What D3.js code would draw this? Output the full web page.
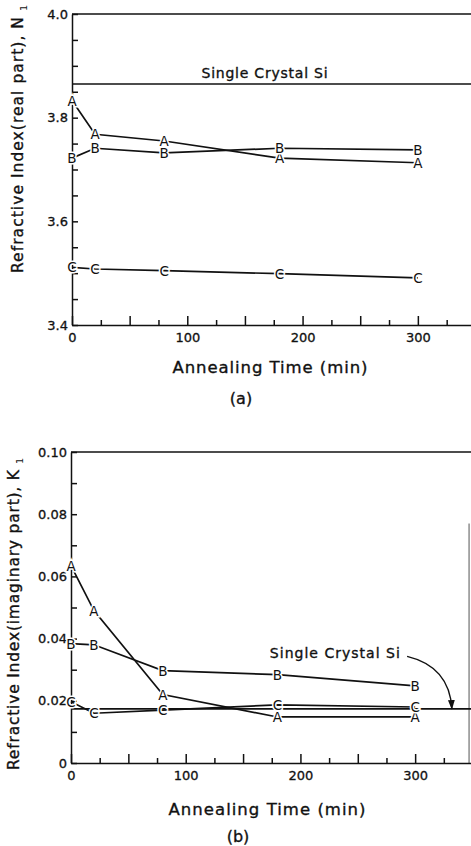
<!DOCTYPE html>
<html lang="en">
  <head>
    <meta charset="UTF-8" />
    <title>Refractive index vs annealing time</title>
    <script src="https://d3js.org/d3.v7.min.js"></script>
    <style>
      body { margin: 0; background: #fff; }
      svg text { font-family: 'DejaVu Sans', sans-serif; fill: #111; }
      .axis path, .axis line { stroke: #111; stroke-width: 1.5; }
      .axis text { font-size: 13px; stroke: #111; stroke-width: 0.3; }
      .lbl { stroke: #111; stroke-width: 0.35; }
    </style>
  </head>
  <body>
    <div id="chart"></div>
    <script>
      // annealing times (min)
      const times = [0, 20, 80, 180, 300];

      // (a) real part N1
      const nA = [3.833, 3.768, 3.755, 3.722, 3.713];
      const nB = [3.722, 3.741, 3.732, 3.741, 3.738];
      const nC = [3.511, 3.508, 3.505, 3.499, 3.491];
      const nSi = 3.865;

      // (b) imaginary part K1
      const kA = [0.0635, 0.049, 0.022, 0.0148, 0.0148];
      const kB = [0.0384, 0.038, 0.0297, 0.0284, 0.0248];
      const kC = [0.0197, 0.016, 0.017, 0.0187, 0.018];
      const kSi = 0.0174;

      const seriesNames = ['A', 'B', 'C'];
      const nTicks = [3.4, 3.6, 3.8, 4.0];
      const kTicks = [0, 0.02, 0.04, 0.06, 0.08, 0.1];
      const xTicks = [0, 100, 200, 300];

      const W = 471, H = 846;
      const svg = d3.select('#chart').append('svg')
        .attr('width', W).attr('height', H);

      function xAxis(g, x) {
        const ax = d3.axisBottom(x)
          .tickValues(d3.range(0, 351, 25))
          .tickSizeInner(-5).tickSizeOuter(0).tickPadding(8)
          .tickFormat((d) => (xTicks.includes(d) ? d : ''));
        g.call(ax);
        g.selectAll('.tick line').attr('y2', (d) => (d % 50 === 0 ? -9 : -5));
        g.selectAll('.tick text').attr('font-size', '12.5px');
      }

      function yAxis(g, y, vals, fmt) {
        const ax = d3.axisLeft(y)
          .tickValues(vals)
          .tickSizeInner(-6).tickSizeOuter(0).tickPadding(4)
          .tickFormat(fmt);
        g.call(ax);
      }

      function drawSeries(g, x, y, data) {
        data.forEach((vals) => {
          const pts = times.map((t, i) => [x(t), y(vals[i])]);
          g.append('path')
            .attr('d', d3.line()(pts))
            .attr('fill', 'none')
            .attr('stroke', '#111')
            .attr('stroke-width', 1.7);
        });
        data.forEach((vals, s) => {
          // letter markers with a white halo that cuts the line
          g.selectAll(null)
            .data(times)
            .enter()
            .append('text')
            .attr('x', (t) => x(t))
            .attr('y', (t, i) => y(vals[i]))
            .attr('text-anchor', 'middle')
            .attr('dominant-baseline', 'central')
            .attr('font-size', '13.5px')
            .attr('font-weight', 'bold')
            .attr('stroke', '#fff')
            .attr('stroke-width', 3)
            .attr('paint-order', 'stroke')
            .style('font-weight', 500)
            .text(seriesNames[s]);
        });
      }

      // ---------- panel (a) ----------
      const xa = d3.scaleLinear().domain([0, 350]).range([72, 475.5]);
      const ya = d3.scaleLinear().domain([3.4, 4.0]).range([325, 14]);
      const ga = svg.append('g');

      ga.append('line')
        .attr('x1', xa(0)).attr('x2', xa(350))
        .attr('y1', ya(4.0)).attr('y2', ya(4.0))
        .attr('stroke', '#111').attr('stroke-width', 1.7);
      ga.append('line')
        .attr('x1', xa(0)).attr('x2', xa(350))
        .attr('y1', ya(nSi)).attr('y2', ya(nSi))
        .attr('stroke', '#111').attr('stroke-width', 1.7);
      ga.append('text')
        .attr('class', 'lbl')
        .attr('x', xa(167)).attr('y', ya(3.8765))
        .attr('text-anchor', 'middle')
        .attr('font-size', '14px')
        .attr('textLength', 126)
        .text('Single Crystal Si');

      ga.append('g').attr('class', 'axis')
        .attr('transform', `translate(0,${ya(3.4)})`)
        .call((g) => xAxis(g, xa));
      ga.append('g').attr('class', 'axis')
        .attr('transform', `translate(${xa(0)},0)`)
        .call((g) => yAxis(g, ya, d3.range(0, 13).map((i) => 3.4 + i * 0.05),
          (d) => (nTicks.some((t) => Math.abs(t - d) < 1e-6) ? d3.format('.1f')(d) : '')));

      drawSeries(ga, xa, ya, [nA, nB, nC]);

      ga.append('text')
        .attr('class', 'lbl')
        .attr('transform', 'translate(23,145) rotate(-90)')
        .attr('text-anchor', 'middle')
        .attr('font-size', '15.5px')
        .attr('textLength', 256)
        .text('Refractive Index(real part), N');
      ga.append('text')
        .attr('transform', 'translate(23,145) rotate(-90)')
        .attr('x', 134).attr('y', 4)
        .attr('font-size', '9.5px')
        .text('1');
      ga.append('text')
        .attr('class', 'lbl')
        .attr('x', 270).attr('y', 373)
        .attr('text-anchor', 'middle')
        .attr('font-size', '16.5px')
        .attr('textLength', 195)
        .text('Annealing Time (min)');
      ga.append('text')
        .attr('class', 'lbl')
        .attr('x', 241).attr('y', 404)
        .attr('text-anchor', 'middle')
        .attr('font-size', '16px')
        .text('(a)');

      // ---------- panel (b) ----------
      const xb = d3.scaleLinear().domain([0, 350]).range([71, 472.5]);
      const yb = d3.scaleLinear().domain([0, 0.1]).range([763, 452]);
      const gb = svg.append('g');

      gb.append('line')
        .attr('x1', xb(0)).attr('x2', xb(350))
        .attr('y1', yb(0.1)).attr('y2', yb(0.1))
        .attr('stroke', '#111').attr('stroke-width', 1.7);
      gb.append('line')
        .attr('x1', xb(347)).attr('x2', xb(347))
        .attr('y1', yb(0.077)).attr('y2', yb(0))
        .attr('stroke', '#555').attr('stroke-width', 1);
      gb.append('line')
        .attr('x1', xb(0)).attr('x2', xb(350))
        .attr('y1', yb(kSi)).attr('y2', yb(kSi))
        .attr('stroke', '#111').attr('stroke-width', 1.7);

      gb.append('g').attr('class', 'axis')
        .attr('transform', `translate(0,${yb(0)})`)
        .call((g) => xAxis(g, xb));
      gb.append('g').attr('class', 'axis')
        .attr('transform', `translate(${xb(0)},0)`)
        .call((g) => yAxis(g, yb, d3.range(0, 11).map((i) => i * 0.01),
          (d) => {
            const hit = kTicks.find((t) => Math.abs(t - d) < 1e-9);
            if (hit === undefined) return '';
            return hit === 0 ? '0' : d3.format('.2f')(hit);
          }));

      drawSeries(gb, xb, yb, [kA, kB, kC]);

      // annotation arrow to the Si line
      const defs = svg.append('defs');
      defs.append('marker')
        .attr('id', 'arrow')
        .attr('viewBox', '0 0 10 10')
        .attr('refX', 9).attr('refY', 5)
        .attr('markerWidth', 7).attr('markerHeight', 7)
        .attr('orient', 'auto')
        .append('path')
        .attr('d', 'M0,1.5 L10,5 L0,8.5 Z')
        .attr('fill', '#111');
      const p0 = [xb(293), yb(0.0343)];
      const pc = [xb(330), yb(0.031)];
      const p1 = [xb(332), yb(kSi)];
      gb.append('path')
        .attr('d', `M${p0[0]},${p0[1]} Q${pc[0]},${pc[1]} ${p1[0]},${p1[1]}`)
        .attr('fill', 'none')
        .attr('stroke', '#111')
        .attr('stroke-width', 1.4)
        .attr('marker-end', 'url(#arrow)');
      gb.append('text')
        .attr('class', 'lbl')
        .attr('x', xb(230)).attr('y', yb(0.0338))
        .attr('text-anchor', 'middle')
        .attr('font-size', '14px')
        .attr('textLength', 130)
        .text('Single Crystal Si');

      gb.append('text')
        .attr('class', 'lbl')
        .attr('transform', 'translate(19,620) rotate(-90)')
        .attr('text-anchor', 'middle')
        .attr('font-size', '15.5px')
        .attr('textLength', 300)
        .text('Refractive Index(imaginary part), K');
      gb.append('text')
        .attr('transform', 'translate(19,620) rotate(-90)')
        .attr('x', 156).attr('y', 4)
        .attr('font-size', '9.5px')
        .text('1');
      gb.append('text')
        .attr('class', 'lbl')
        .attr('x', 267).attr('y', 815)
        .attr('text-anchor', 'middle')
        .attr('font-size', '16.5px')
        .attr('textLength', 197)
        .text('Annealing Time (min)');
      gb.append('text')
        .attr('class', 'lbl')
        .attr('x', 238).attr('y', 842)
        .attr('text-anchor', 'middle')
        .attr('font-size', '16px')
        .text('(b)');
    </script>
  </body>
</html>
